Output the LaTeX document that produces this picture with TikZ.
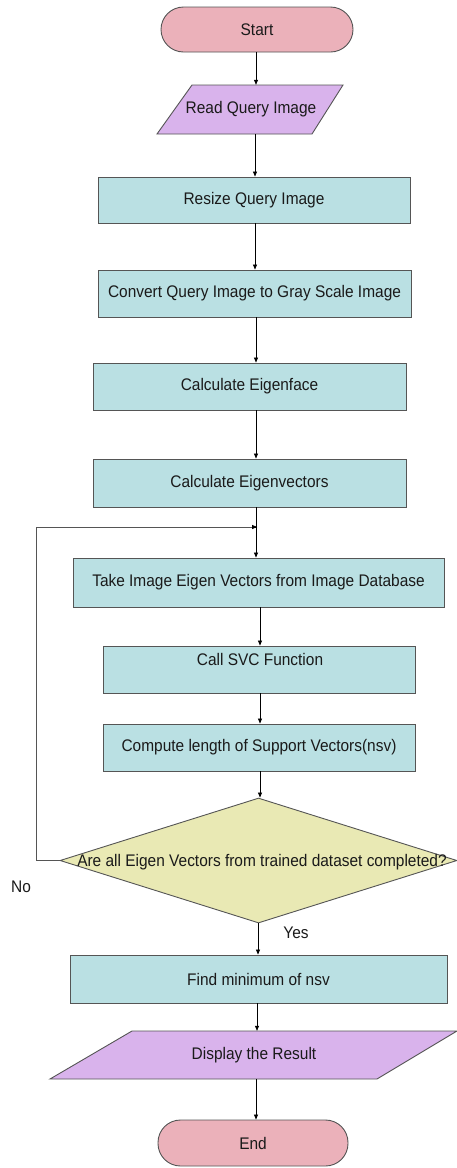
\documentclass[tikz,border=0pt]{standalone}
\usepackage{fontspec}
\setmainfont{Liberation Sans}[FakeStretch=0.92]
\usetikzlibrary{shapes.geometric,arrows.meta}
\definecolor{termfill}{HTML}{EBB1BA}
\definecolor{iofill}{HTML}{D9B3EC}
\definecolor{boxfill}{HTML}{BAE0E3}
\definecolor{decfill}{HTML}{E9E9B4}
\definecolor{edge}{HTML}{555555}
\definecolor{txt}{HTML}{1A1A1A}
\tikzset{
  every node/.style={font=\fontsize{16.8}{19}\selectfont, text=txt, inner sep=0pt},
  procbox/.style={draw=edge, line width=0.9pt, fill=boxfill, rectangle},
  termbox/.style={draw=edge, line width=0.9pt, fill=termfill, rectangle, rounded corners=22.5pt},
  iobox/.style={draw=edge, line width=0.9pt, fill=iofill},
  decbox/.style={draw=edge, line width=0.9pt, fill=decfill, diamond, aspect=3.2},
  arr/.style={draw=black, line width=0.7pt, -{Triangle[length=5pt,width=4pt]}},
  loopline/.style={draw=edge, line width=0.9pt},
}
\begin{document}
\begin{tikzpicture}[x=1pt,y=-1pt]
\useasboundingbox (0,0) rectangle (457,1168);
% Start
\node[termbox, minimum width=192pt, minimum height=45pt] (start) at (257,29.5) {Start};
% Read Query Image (parallelogram)
\draw[iobox] (192,85) -- (343,85) -- (312,134) -- (157,134) -- cycle;
\node[minimum height=49pt, minimum width=150pt] (read) at (251,109.5) {Read Query Image};
% Resize
\node[procbox, minimum width=312pt, minimum height=46pt] (resize) at (254,200) {Resize Query Image};
% Convert
\node[procbox, minimum width=313pt, minimum height=47pt] (convert) at (254.5,293.5) {Convert Query Image to Gray Scale Image};
% Eigenface
\node[procbox, minimum width=313pt, minimum height=47pt] (eigface) at (249.5,386.5) {Calculate Eigenface};
% Eigenvectors
\node[procbox, minimum width=313pt, minimum height=48pt] (eigvec) at (249.5,483) {Calculate Eigenvectors};
% Take
\node[procbox, minimum width=371pt, minimum height=49pt] (take) at (258.5,582.5) {Take Image Eigen Vectors from Image Database};
% SVC
\node[procbox, minimum width=312pt, minimum height=47pt] (svc) at (259,669.5) {};
\node (svctext) at (260,659) {Call SVC Function};
% Compute
\node[procbox, minimum width=312pt, minimum height=47pt] (compute) at (259,747.5) {Compute length of Support Vectors(nsv)};
% Decision
\node[decbox, minimum width=397pt, minimum height=125pt] (dec) at (258.5,860.5) {};
\node (dectext) at (262,862) {Are all Eigen Vectors from trained dataset completed?};
% Find
\node[procbox, minimum width=377pt, minimum height=48pt] (find) at (258.5,979) {Find minimum of nsv};
% Display (parallelogram)
\draw[iobox] (132,1031) -- (457,1031) -- (377,1079) -- (50,1079) -- cycle;
\node[minimum height=48pt, minimum width=240pt] (disp) at (254,1055) {Display the Result};
% End
\node[termbox, minimum width=190pt, minimum height=46pt] (end) at (253,1143) {End};
% labels
\node (no) at (21,887) {No};
\node (yes) at (296,933) {Yes};
% loop corners
\coordinate (lp) at (36,527);
\coordinate (lj) at (257,527);
% connectors
\draw[arr] (start.south -| 256,0) -- (read.north -| 256,0);
\draw[arr] (read.south -| 255,0) -- (resize.north -| 255,0);
\draw[arr] (resize.south -| 255,0) -- (convert.north -| 255,0);
\draw[arr] (convert.south -| 256,0) -- (eigface.north -| 256,0);
\draw[arr] (eigface.south -| 256,0) -- (eigvec.north -| 256,0);
\draw[arr] (eigvec.south -| 256,0) -- (take.north -| 256,0);
\draw[arr] (take.south -| 260,0) -- (svc.north -| 260,0);
\draw[arr] (svc.south -| 260,0) -- (compute.north -| 260,0);
\draw[arr] (compute.south -| 260,0) -- (dec.north -| 260,0);
\draw[arr] (dec.south -| 258,0) -- (find.north -| 258,0);
\draw[arr] (find.south -| 257,0) -- (disp.north -| 257,0);
\draw[arr] (disp.south -| 256,0) -- (end.north -| 256,0);
\draw[loopline] (dec.west) -- (dec.west -| lp) -- (lp) -- (lj);
\draw[arr] (lj) -- ++(0.1,0);
\end{tikzpicture}
\end{document}
